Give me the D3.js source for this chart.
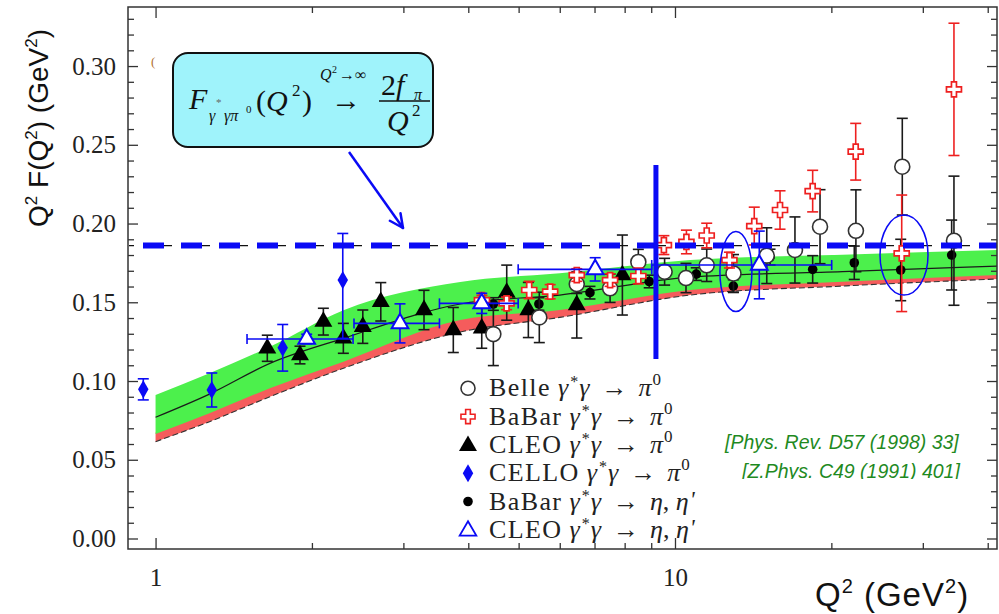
<!DOCTYPE html>
<html>
<head>
<meta charset="utf-8">
<script src="https://cdnjs.cloudflare.com/ajax/libs/d3/7.8.5/d3.min.js"></script>
<style>
  body { margin: 0; background: #fff; }
  svg { display: block; }
  .tick text { font-family: "Liberation Serif", "Times New Roman", serif; font-size: 25px; fill: #222; }
  .tick line { stroke: #333; stroke-width: 1.3; }
</style>
</head>
<body>
<div id="chart"></div>
<script>
var width = 999, height = 614;

// theory band
var bandQ2  = [1, 1.27, 1.66, 2.3, 3.86, 6.0, 10.7, 21, 41.7];
var bandTop = [0.0911, 0.1049, 0.1218, 0.145, 0.1629, 0.1684, 0.1768, 0.1802, 0.1832];
var bandMid = [0.0770, 0.0917, 0.1112, 0.1271, 0.1489, 0.1546, 0.1660, 0.1694, 0.1730];
var bandLow = [0.0663, 0.0795, 0.0954, 0.1123, 0.1387, 0.1451, 0.1578, 0.1630, 0.1673];
var bandRed = [0.0615, 0.0742, 0.0900, 0.1081, 0.1311, 0.1404, 0.1546, 0.1603, 0.1648];

var asymLimit = 0.186;   // 2 f_pi

// Belle pi0
var belleQ2  = [4.47, 5.48, 6.47, 7.50, 8.50, 9.55, 10.50, 11.51, 12.96, 15.02, 17.02, 19.02, 22.30, 27.39, 34.44];
var belleVal = [0.1298, 0.1404, 0.1616, 0.1589, 0.1756, 0.1694, 0.1654, 0.1735, 0.1683, 0.1796, 0.1832, 0.1980, 0.1954, 0.2361, 0.1891];
var belleErr = [0.020, 0.016, 0.006, 0.009, 0.008, 0.0085, 0.0093, 0.0103, 0.012, 0.0177, 0.021, 0.0235, 0.026, 0.0307, 0.041];

// BaBar pi0
var babarQ2  = [4.25, 4.74, 5.24, 5.75, 6.47, 7.50, 8.50, 9.52, 10.52, 11.51, 12.73, 14.21, 15.93, 18.41, 22.28, 27.32, 34.44];
var babarVal = [0.1514, 0.1493, 0.1578, 0.1567, 0.1673, 0.1641, 0.1667, 0.1863, 0.1883, 0.1924, 0.1768, 0.1984, 0.2086, 0.2206, 0.2456, 0.1811, 0.2852];
var babarErr = [0.003, 0.004, 0.0055, 0.0045, 0.004, 0.004, 0.005, 0.006, 0.0075, 0.0078, 0.005, 0.012, 0.0122, 0.0132, 0.018, 0.037, 0.042];

// CLEO pi0
var cleoQ2  = [1.641, 1.897, 2.104, 2.299, 2.506, 2.714, 3.287, 3.743, 4.246, 4.743, 5.22, 6.47, 7.92];
var cleoVal = [0.1208, 0.1165, 0.1377, 0.1271, 0.1345, 0.1503, 0.1451, 0.1324, 0.1335, 0.1561, 0.1451, 0.1483, 0.1673];
var cleoErr = [0.0083, 0.0056, 0.0085, 0.0095, 0.0106, 0.0122, 0.0125, 0.0143, 0.0127, 0.0175, 0.0175, 0.021, 0.0254];

// CELLO pi0
var celloQ2    = [0.947, 1.283, 1.757, 2.293];
var celloVal   = [0.0947, 0.0943, 0.1211, 0.1641];
var celloErrLo = [0.0067, 0.0108, 0.0148, 0.037];
var celloErrHi = [0.0067, 0.0108, 0.0148, 0.0296];

// BaBar eta, eta'
var etaQ2  = [4.47, 5.47, 6.86, 8.92, 10.99, 12.95, 15.24, 18.41, 22.14, 27.20, 34.09];
var etaVal = [0.1489, 0.1489, 0.1561, 0.1632, 0.1679, 0.1603, 0.1787, 0.1709, 0.1751, 0.1705, 0.1800];
var etaErr = [0.004, 0.004, 0.004, 0.004, 0.004, 0.004, 0.005, 0.0087, 0.0106, 0.0195, 0.0222];

// CLEO eta, eta'
var cleoEtaQ2   = [1.954, 2.955, 4.246, 7.02, 14.53];
var cleoEtaLoQ2 = [1.50, 2.41, 3.52, 4.99, 9.02];
var cleoEtaHiQ2 = [2.40, 3.52, 4.99, 9.02, 20.03];
var cleoEtaVal  = [0.1267, 0.1366, 0.1493, 0.1709, 0.1737];
var cleoEtaErr  = [0.003, 0.0124, 0.0064, 0.0074, 0.0215];

var yMajor = [0, 0.05, 0.10, 0.15, 0.20, 0.25, 0.30];
var yMinor = [0.01,0.02,0.03,0.04,0.06,0.07,0.08,0.09,0.11,0.12,0.13,0.14,0.16,0.17,0.18,0.19,
              0.21,0.22,0.23,0.24,0.26,0.27,0.28,0.29,0.31,0.32,0.33];
var xMajor = [1, 10];
var xMinor = [2, 3, 4, 5, 6, 7, 8, 9, 20, 30, 40];

var legendNames = ["Belle", "BaBar", "CLEO", "CELLO", "BaBar", "CLEO"];
var legendFinal = ["pi", "pi", "pi", "pi", "eta", "eta"];
var refLines = ["[Phys. Rev. D57 (1998) 33]", "[Z.Phys. C49 (1991) 401]"];

var BLUE = "#0a0af5", RED = "#ee2020", INK = "#1a1a1a";

var x = d3.scaleLog().domain([0.885, 41.68]).range([128, 997]);
var y = d3.scaleLinear().domain([-0.00667, 0.3375]).range([549, 7]);

var svg = d3.select("#chart").append("svg")
    .attr("width", width)
    .attr("height", height);

var defs = svg.append("defs");
defs.append("clipPath").attr("id", "plot")
  .append("rect").attr("x", 128).attr("y", 7).attr("width", 869).attr("height", 542);
defs.append("clipPath").attr("id", "refclip")
  .append("rect").attr("x", 600).attr("y", 400).attr("width", 399).attr("height", 79);

var plot = svg.append("g").attr("clip-path", "url(#plot)");

// band
var band = bandQ2.map(function(q, i){
  return {q: q, top: bandTop[i], mid: bandMid[i], low: bandLow[i], red: bandRed[i]};
});
plot.append("path").datum(band)
  .attr("fill", "#f55c5c")
  .attr("d", d3.area().curve(d3.curveMonotoneX)
    .x(function(d){ return x(d.q); })
    .y0(function(d){ return y(d.red); })
    .y1(function(d){ return y(d.low + 0.001); }));
plot.append("path").datum(band)
  .attr("fill", "#4cf04c")
  .attr("d", d3.area().curve(d3.curveMonotoneX)
    .x(function(d){ return x(d.q); })
    .y0(function(d){ return y(d.low); })
    .y1(function(d){ return y(d.top); }));
plot.append("path").datum(band)
  .attr("fill", "none").attr("stroke", INK).attr("stroke-width", 1.2)
  .attr("d", d3.line().curve(d3.curveMonotoneX)
    .x(function(d){ return x(d.q); })
    .y(function(d){ return y(d.mid); }));
plot.append("path").datum(band)
  .attr("fill", "none").attr("stroke", "#333").attr("stroke-width", 1.1)
  .attr("stroke-dasharray", "6,3")
  .attr("d", d3.line().curve(d3.curveMonotoneX)
    .x(function(d){ return x(d.q); })
    .y(function(d){ return y(d.red); }));

// error bar helper
function vbar(g, q, v, lo, hi, cap){
  var cx = x(q), y1 = y(v - lo), y2 = y(v + hi);
  g.append("line").attr("x1", cx).attr("x2", cx).attr("y1", y1).attr("y2", y2);
  g.append("line").attr("x1", cx - cap).attr("x2", cx + cap).attr("y1", y1).attr("y2", y1);
  g.append("line").attr("x1", cx - cap).attr("x2", cx + cap).attr("y1", y2).attr("y2", y2);
}

// BaBar eta, eta'
var gEta = plot.append("g").attr("stroke", INK).attr("stroke-width", 1.6);
etaQ2.forEach(function(q, i){ vbar(gEta, q, etaVal[i], etaErr[i], etaErr[i], 5.5); });
plot.selectAll("circle.eta").data(etaQ2).enter().append("circle")
  .attr("class", "eta")
  .attr("cx", function(d){ return x(d); })
  .attr("cy", function(d, i){ return y(etaVal[i]); })
  .attr("r", 4.8).attr("fill", "#000");

// CLEO pi0
var gCleo = plot.append("g").attr("stroke", INK).attr("stroke-width", 1.6);
cleoQ2.forEach(function(q, i){ vbar(gCleo, q, cleoVal[i], cleoErr[i], cleoErr[i], 5.5); });
plot.selectAll("path.cleo").data(cleoQ2).enter().append("path")
  .attr("class", "cleo")
  .attr("transform", function(d, i){ return "translate(" + x(d) + "," + y(cleoVal[i]) + ")"; })
  .attr("d", d3.symbol().type(d3.symbolTriangle).size(140))
  .attr("fill", "#000");

// Belle
var gBelle = plot.append("g").attr("stroke", INK).attr("stroke-width", 1.6);
belleQ2.forEach(function(q, i){ vbar(gBelle, q, belleVal[i], belleErr[i], belleErr[i], 5.5); });
plot.selectAll("circle.belle").data(belleQ2).enter().append("circle")
  .attr("class", "belle")
  .attr("cx", function(d){ return x(d); })
  .attr("cy", function(d, i){ return y(belleVal[i]); })
  .attr("r", 7.5).attr("fill", "#fff").attr("stroke", "#333").attr("stroke-width", 1.6);

// BaBar pi0
var gBabar = plot.append("g").attr("stroke", RED).attr("stroke-width", 1.6);
babarQ2.forEach(function(q, i){ vbar(gBabar, q, babarVal[i], babarErr[i], babarErr[i], 5.5); });
plot.selectAll("path.babar").data(babarQ2).enter().append("path")
  .attr("class", "babar")
  .attr("transform", function(d, i){ return "translate(" + x(d) + "," + y(babarVal[i]) + ")"; })
  .attr("d", d3.symbol().type(d3.symbolCross).size(125))
  .attr("fill", "#fff").attr("stroke", RED).attr("stroke-width", 1.7);

// CLEO eta, eta'
var gCE = plot.append("g").attr("stroke", BLUE).attr("stroke-width", 1.6);
cleoEtaQ2.forEach(function(q, i){
  vbar(gCE, q, cleoEtaVal[i], cleoEtaErr[i], cleoEtaErr[i], 5.5);
  var cy = y(cleoEtaVal[i]), xl = x(cleoEtaLoQ2[i]), xr = x(cleoEtaHiQ2[i]);
  gCE.append("line").attr("x1", xl).attr("x2", xr).attr("y1", cy).attr("y2", cy);
  gCE.append("line").attr("x1", xl).attr("x2", xl).attr("y1", cy - 5).attr("y2", cy + 5);
  gCE.append("line").attr("x1", xr).attr("x2", xr).attr("y1", cy - 5).attr("y2", cy + 5);
});
plot.selectAll("path.cleoeta").data(cleoEtaQ2).enter().append("path")
  .attr("class", "cleoeta")
  .attr("transform", function(d, i){ return "translate(" + x(d) + "," + y(cleoEtaVal[i]) + ")"; })
  .attr("d", d3.symbol().type(d3.symbolTriangle).size(120))
  .attr("fill", "#fff").attr("stroke", BLUE).attr("stroke-width", 2);

// CELLO
var gCello = plot.append("g").attr("stroke", BLUE).attr("stroke-width", 1.6);
celloQ2.forEach(function(q, i){ vbar(gCello, q, celloVal[i], celloErrLo[i], celloErrHi[i], 5.5); });
plot.selectAll("path.cello").data(celloQ2).enter().append("path")
  .attr("class", "cello")
  .attr("transform", function(d, i){ return "translate(" + x(d) + "," + y(celloVal[i]) + ")"; })
  .attr("d", d3.symbol().type(d3.symbolDiamond).size(95))
  .attr("fill", BLUE);

// asymptotic limit
plot.append("line")
  .attr("x1", 129).attr("x2", 997).attr("y1", y(asymLimit)).attr("y2", y(asymLimit))
  .attr("stroke", "#111").attr("stroke-width", 1.2)
  .attr("stroke-dasharray", "29,9").attr("stroke-dashoffset", 24);
plot.append("line")
  .attr("x1", 143).attr("x2", 997).attr("y1", y(asymLimit)).attr("y2", y(asymLimit))
  .attr("stroke", BLUE).attr("stroke-width", 6)
  .attr("stroke-dasharray", "21,17");

// vertical marker
plot.append("line")
  .attr("x1", x(9.19)).attr("x2", x(9.19)).attr("y1", y(0.2371)).attr("y2", y(0.114))
  .attr("stroke", BLUE).attr("stroke-width", 5);

// ellipses
[[13.1, 0.1695, 16, 40], [27.6, 0.180, 24, 40]].forEach(function(e){
  plot.append("ellipse")
    .attr("cx", x(e[0])).attr("cy", y(e[1])).attr("rx", e[2]).attr("ry", e[3])
    .attr("fill", "none").attr("stroke", BLUE).attr("stroke-width", 1.5);
});

// axes
function clean(g){ g.select(".domain").remove(); }
svg.append("g").attr("transform", "translate(128,0)")
  .call(d3.axisLeft(y).tickValues(yMajor).tickSize(-10).tickPadding(12).tickFormat(d3.format(".2f"))).call(clean);
svg.append("g").attr("transform", "translate(128,0)")
  .call(d3.axisLeft(y).tickValues(yMinor).tickSize(-6).tickFormat("")).call(clean);
svg.append("g").attr("transform", "translate(997,0)")
  .call(d3.axisRight(y).tickValues(yMajor).tickSize(-10).tickFormat("")).call(clean);
svg.append("g").attr("transform", "translate(997,0)")
  .call(d3.axisRight(y).tickValues(yMinor).tickSize(-6).tickFormat("")).call(clean);
svg.append("g").attr("transform", "translate(0,549)")
  .call(d3.axisBottom(x).tickValues(xMajor).tickSize(-11).tickPadding(19).tickFormat(d3.format("d"))).call(clean);
svg.append("g").attr("transform", "translate(0,549)")
  .call(d3.axisBottom(x).tickValues(xMinor).tickSize(-6).tickFormat("")).call(clean);
svg.append("g").attr("transform", "translate(0,7)")
  .call(d3.axisTop(x).tickValues(xMajor).tickSize(-11).tickFormat("")).call(clean);
svg.append("g").attr("transform", "translate(0,7)")
  .call(d3.axisTop(x).tickValues(xMinor).tickSize(-6).tickFormat("")).call(clean);

svg.append("rect")
  .attr("x", 128).attr("y", 7).attr("width", 869).attr("height", 542)
  .attr("fill", "none").attr("stroke", "#333").attr("stroke-width", 1.5);

// axis titles
var yt = svg.append("text")
  .attr("transform", "translate(48,128) rotate(-90)")
  .attr("text-anchor", "middle")
  .style("font-family", "'Liberation Sans', Arial, sans-serif")
  .style("font-size", "28px").attr("fill", "#111");
yt.append("tspan").text("Q");
yt.append("tspan").attr("dy", -11).style("font-size", "17px").text("2");
yt.append("tspan").attr("dy", 11).text(" F(Q");
yt.append("tspan").attr("dy", -11).style("font-size", "17px").text("2");
yt.append("tspan").attr("dy", 11).text(") (GeV");
yt.append("tspan").attr("dy", -11).style("font-size", "17px").text("2");
yt.append("tspan").attr("dy", 11).text(")");

var xt = svg.append("text")
  .attr("x", 815).attr("y", 606)
  .style("font-family", "'Liberation Sans', Arial, sans-serif")
  .style("font-size", "33px").style("letter-spacing", "1px").attr("fill", "#111");
xt.append("tspan").text("Q");
xt.append("tspan").attr("dy", -13).style("font-size", "20px").text("2");
xt.append("tspan").attr("dy", 13).text(" (GeV");
xt.append("tspan").attr("dy", -13).style("font-size", "20px").text("2");
xt.append("tspan").attr("dy", 13).text(")");

// stray glyph near top-left
svg.append("text").attr("x", 151).attr("y", 66)
  .style("font-family", "'Liberation Serif', serif").style("font-size", "13px")
  .attr("fill", "#b07030").text("(");

// legend
var serif = "'Liberation Serif', 'Times New Roman', serif";
legendNames.forEach(function(name, i){
  var cy = 388.3 + i * 28.3, mx = 468;
  var m = svg.append("g");
  if (i === 0) m.append("circle").attr("cx", mx).attr("cy", cy).attr("r", 7)
      .attr("fill", "#fff").attr("stroke", "#333").attr("stroke-width", 1.6);
  if (i === 1) m.append("path").attr("transform", "translate(" + mx + "," + cy + ")")
      .attr("d", d3.symbol().type(d3.symbolCross).size(110)).attr("fill", "#fff").attr("stroke", RED).attr("stroke-width", 1.6);
  if (i === 2) m.append("path").attr("transform", "translate(" + mx + "," + (cy + 1) + ")")
      .attr("d", d3.symbol().type(d3.symbolTriangle).size(140)).attr("fill", "#000");
  if (i === 3) m.append("path").attr("transform", "translate(" + mx + "," + cy + ")")
      .attr("d", d3.symbol().type(d3.symbolDiamond).size(95)).attr("fill", BLUE);
  if (i === 4) m.append("circle").attr("cx", mx).attr("cy", cy).attr("r", 4.8).attr("fill", "#000");
  if (i === 5) m.append("path").attr("transform", "translate(" + mx + "," + (cy + 1) + ")")
      .attr("d", d3.symbol().type(d3.symbolTriangle).size(120)).attr("fill", "#fff").attr("stroke", BLUE).attr("stroke-width", 1.8);

  var nt = svg.append("text").attr("x", 489).attr("y", cy + 8)
    .style("font-family", serif).style("font-size", "26px").style("letter-spacing", "1.4px")
    .attr("fill", "#222").text(name);
  var len = nt.node().getComputedTextLength();
  var t = svg.append("text").attr("x", 489 + len + 7).attr("y", cy + 8)
    .style("font-family", serif).style("font-size", "26px").attr("fill", "#222");
  t.append("tspan").style("font-style", "italic").text("γ");
  t.append("tspan").attr("dx", 2).attr("dy", -9).style("font-size", "16px").text("*");
  t.append("tspan").attr("dx", 1).attr("dy", 9).style("font-style", "italic").text("γ");
  t.append("tspan").attr("dx", 12).text("→");
  if (legendFinal[i] === "pi") {
    t.append("tspan").attr("dx", 11).style("font-style", "italic").text("π");
    t.append("tspan").attr("dx", 1).attr("dy", -11).style("font-size", "17px").text("0");
  } else {
    t.append("tspan").attr("dx", 11).style("font-style", "italic").text("η");
    t.append("tspan").text(", ");
    t.append("tspan").style("font-style", "italic").text("η");
    t.append("tspan").attr("dx", 1).attr("dy", -3).style("font-size", "23px").style("font-style", "italic").text("'");
  }
});

// references
var gRef = svg.append("g").attr("clip-path", "url(#refclip)");
[[725, 449], [742, 478]].forEach(function(p, i){
  gRef.append("text").attr("x", p[0]).attr("y", p[1])
    .style("font-family", "'Liberation Sans', Arial, sans-serif")
    .style("font-size", "19.5px").style("font-style", "italic")
    .attr("fill", "#1f8a1f").text(refLines[i]);
});

// formula box
svg.append("rect")
  .attr("x", 173).attr("y", 53).attr("width", 260).attr("height", 94).attr("rx", 15)
  .attr("fill", "#9ff3fb").attr("stroke", "#111").attr("stroke-width", 2);

function ftext(xp, yp, size, str, italic, col){
  return svg.append("text").attr("x", xp).attr("y", yp)
    .style("font-family", serif).style("font-size", size + "px")
    .style("font-style", italic ? "italic" : "normal")
    .attr("fill", col || "#111").text(str);
}
ftext(189, 109, 30, "F", true);
ftext(209, 121, 16, "γ", true);
ftext(216, 106, 11, "*", false, "#666");
ftext(224, 121, 16, "γπ", true);
ftext(246, 113, 11, "0", false);
ftext(256, 111, 30, "(", false);
ftext(266, 111, 30, "Q", true);
ftext(292, 96, 17, "2", false);
ftext(302, 111, 30, ")", false);
ftext(331, 110, 30, "→", false);
ftext(320, 80, 16, "Q", true);
ftext(332, 73, 10, "2", false);
ftext(339, 80, 16, "→∞", false);
ftext(381, 95, 30, "2", false);
ftext(396, 95, 30, "f", true);
ftext(414, 100, 16, "π", true);
svg.append("line").attr("x1", 379).attr("x2", 430).attr("y1", 101).attr("y2", 101)
  .attr("stroke", "#111").attr("stroke-width", 1.3);
ftext(387, 131, 30, "Q", true);
ftext(412, 116, 17, "2", false);

// pointer arrow
var ax0 = 349, ay0 = 152, ax1 = 403, ay1 = 228;
var ang = Math.atan2(ay1 - ay0, ax1 - ax0);
svg.append("line").attr("x1", ax0).attr("y1", ay0).attr("x2", ax1).attr("y2", ay1)
  .attr("stroke", BLUE).attr("stroke-width", 2.5);
[0.45, -0.45].forEach(function(da){
  svg.append("line").attr("x1", ax1).attr("y1", ay1)
    .attr("x2", ax1 - 15 * Math.cos(ang + da)).attr("y2", ay1 - 15 * Math.sin(ang + da))
    .attr("stroke", BLUE).attr("stroke-width", 2.5).attr("stroke-linecap", "round");
});
</script>
</body>
</html>
